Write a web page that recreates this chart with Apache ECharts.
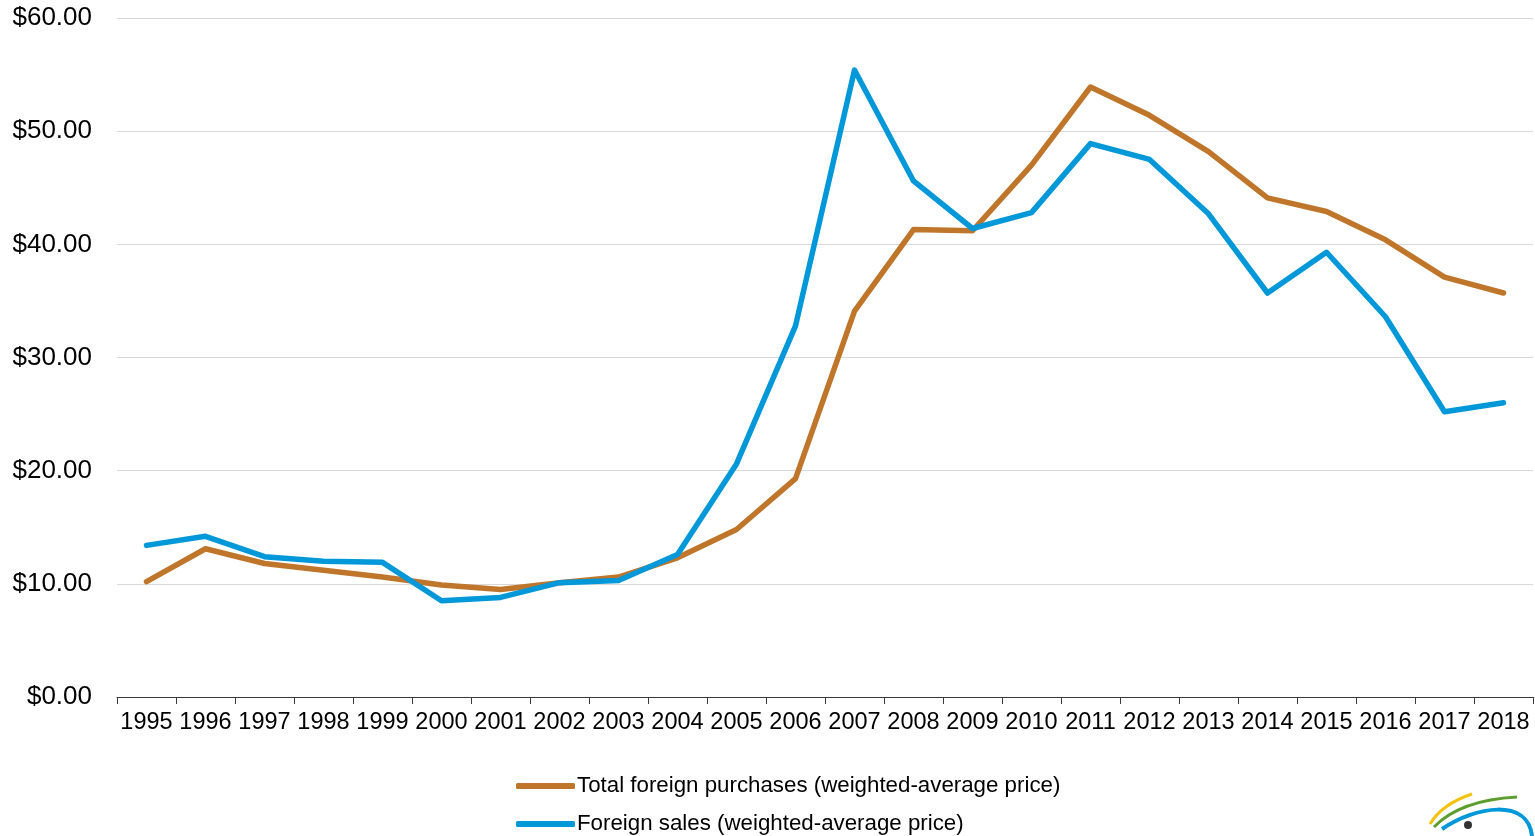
<!DOCTYPE html>
<html>
<head>
<meta charset="utf-8">
<script src="https://cdn.jsdelivr.net/npm/echarts@6/dist/echarts.min.js"></script>
<style>
html,body{margin:0;padding:0;background:#fff;}
#chart{width:1535px;height:836px;}
</style>
</head>
<body>
<div id="chart"></div>
<script>
const years = ['1995','1996','1997','1998','1999','2000','2001','2002','2003','2004','2005','2006','2007','2008','2009','2010','2011','2012','2013','2014','2015','2016','2017','2018'];
const purchases = [10.2, 13.1, 11.8, 11.2, 10.6, 9.9, 9.5, 10.1, 10.6, 12.3, 14.8, 19.3, 34.1, 41.3, 41.2, 47.0, 53.9, 51.4, 48.2, 44.1, 42.9, 40.4, 37.1, 35.7];
const sales = [13.4, 14.2, 12.4, 12.0, 11.9, 8.5, 8.8, 10.1, 10.3, 12.6, 20.6, 32.8, 55.4, 45.6, 41.4, 42.8, 48.9, 47.5, 42.7, 35.7, 39.3, 33.6, 25.2, 26.0];
const seriesNames = ['Total foreign purchases (weighted-average price)', 'Foreign sales (weighted-average price)'];
const yTicks = {min: 0, max: 60, interval: 10};

const font = '"Liberation Sans", Arial, sans-serif';
const legendText = {fontFamily: font, fontSize: 22.3, color: '#000', padding: [0, 0, 0, -3]};
const chart = echarts.init(document.getElementById('chart'));
chart.setOption({
  animation: false,
  backgroundColor: '#ffffff',
  grid: {left: 117, right: 2, top: 18, bottom: 139, containLabel: false},
  legend: [
    {left: 511, top: 770, itemWidth: 59, itemHeight: 6, icon: 'roundRect', textStyle: legendText, data: [seriesNames[0]]},
    {left: 511, top: 808, itemWidth: 59, itemHeight: 6, icon: 'roundRect', textStyle: legendText, data: [seriesNames[1]]}
  ],
  xAxis: {
    type: 'category',
    data: years,
    boundaryGap: true,
    axisLine: {lineStyle: {color: '#3a3a3a', width: 1}},
    axisTick: {show: true, length: 7, lineStyle: {color: '#3a3a3a'}},
    axisLabel: {fontFamily: font, fontSize: 23.5, color: '#000', margin: 14, interval: 0},
    splitLine: {show: false}
  },
  yAxis: {
    type: 'value',
    min: yTicks.min,
    max: yTicks.max,
    interval: yTicks.interval,
    axisLine: {show: false},
    axisTick: {show: false},
    axisLabel: {fontFamily: font, fontSize: 26, color: '#000', margin: 25, padding: [3, 0, 0, 0],
      formatter: v => '$' + v.toFixed(2)},
    splitLine: {lineStyle: {color: '#d9d9d9', width: 1}}
  },
  series: [
    {name: seriesNames[0], type: 'line', data: purchases, symbol: 'none',
      lineStyle: {color: '#bf762b', width: 5.5, cap: 'round', join: 'round'}, itemStyle: {color: '#bf762b'}, z: 2},
    {name: seriesNames[1], type: 'line', data: sales, symbol: 'none',
      lineStyle: {color: '#0098d9', width: 5.5, cap: 'round', join: 'round'}, itemStyle: {color: '#0098d9'}, z: 3}
  ],
  graphic: [
    {type: 'bezierCurve', shape: {x1: 1430, y1: 824, cpx1: 1442, cpy1: 804, x2: 1472, y2: 794}, style: {stroke: '#f5c20f', lineWidth: 3, fill: null}},
    {type: 'bezierCurve', shape: {x1: 1434, y1: 827, cpx1: 1460, cpy1: 800, x2: 1517, y2: 797}, style: {stroke: '#5d9e2f', lineWidth: 3, fill: null}},
    {type: 'bezierCurve', shape: {x1: 1442, y1: 829, cpx1: 1475, cpy1: 806, cpx2: 1528, cpy2: 798, x2: 1532, y2: 836}, style: {stroke: '#0098d9', lineWidth: 4, fill: null}},
    {type: 'circle', shape: {cx: 1468, cy: 825, r: 4}, style: {fill: '#333'}}
  ]
});
</script>
</body>
</html>
